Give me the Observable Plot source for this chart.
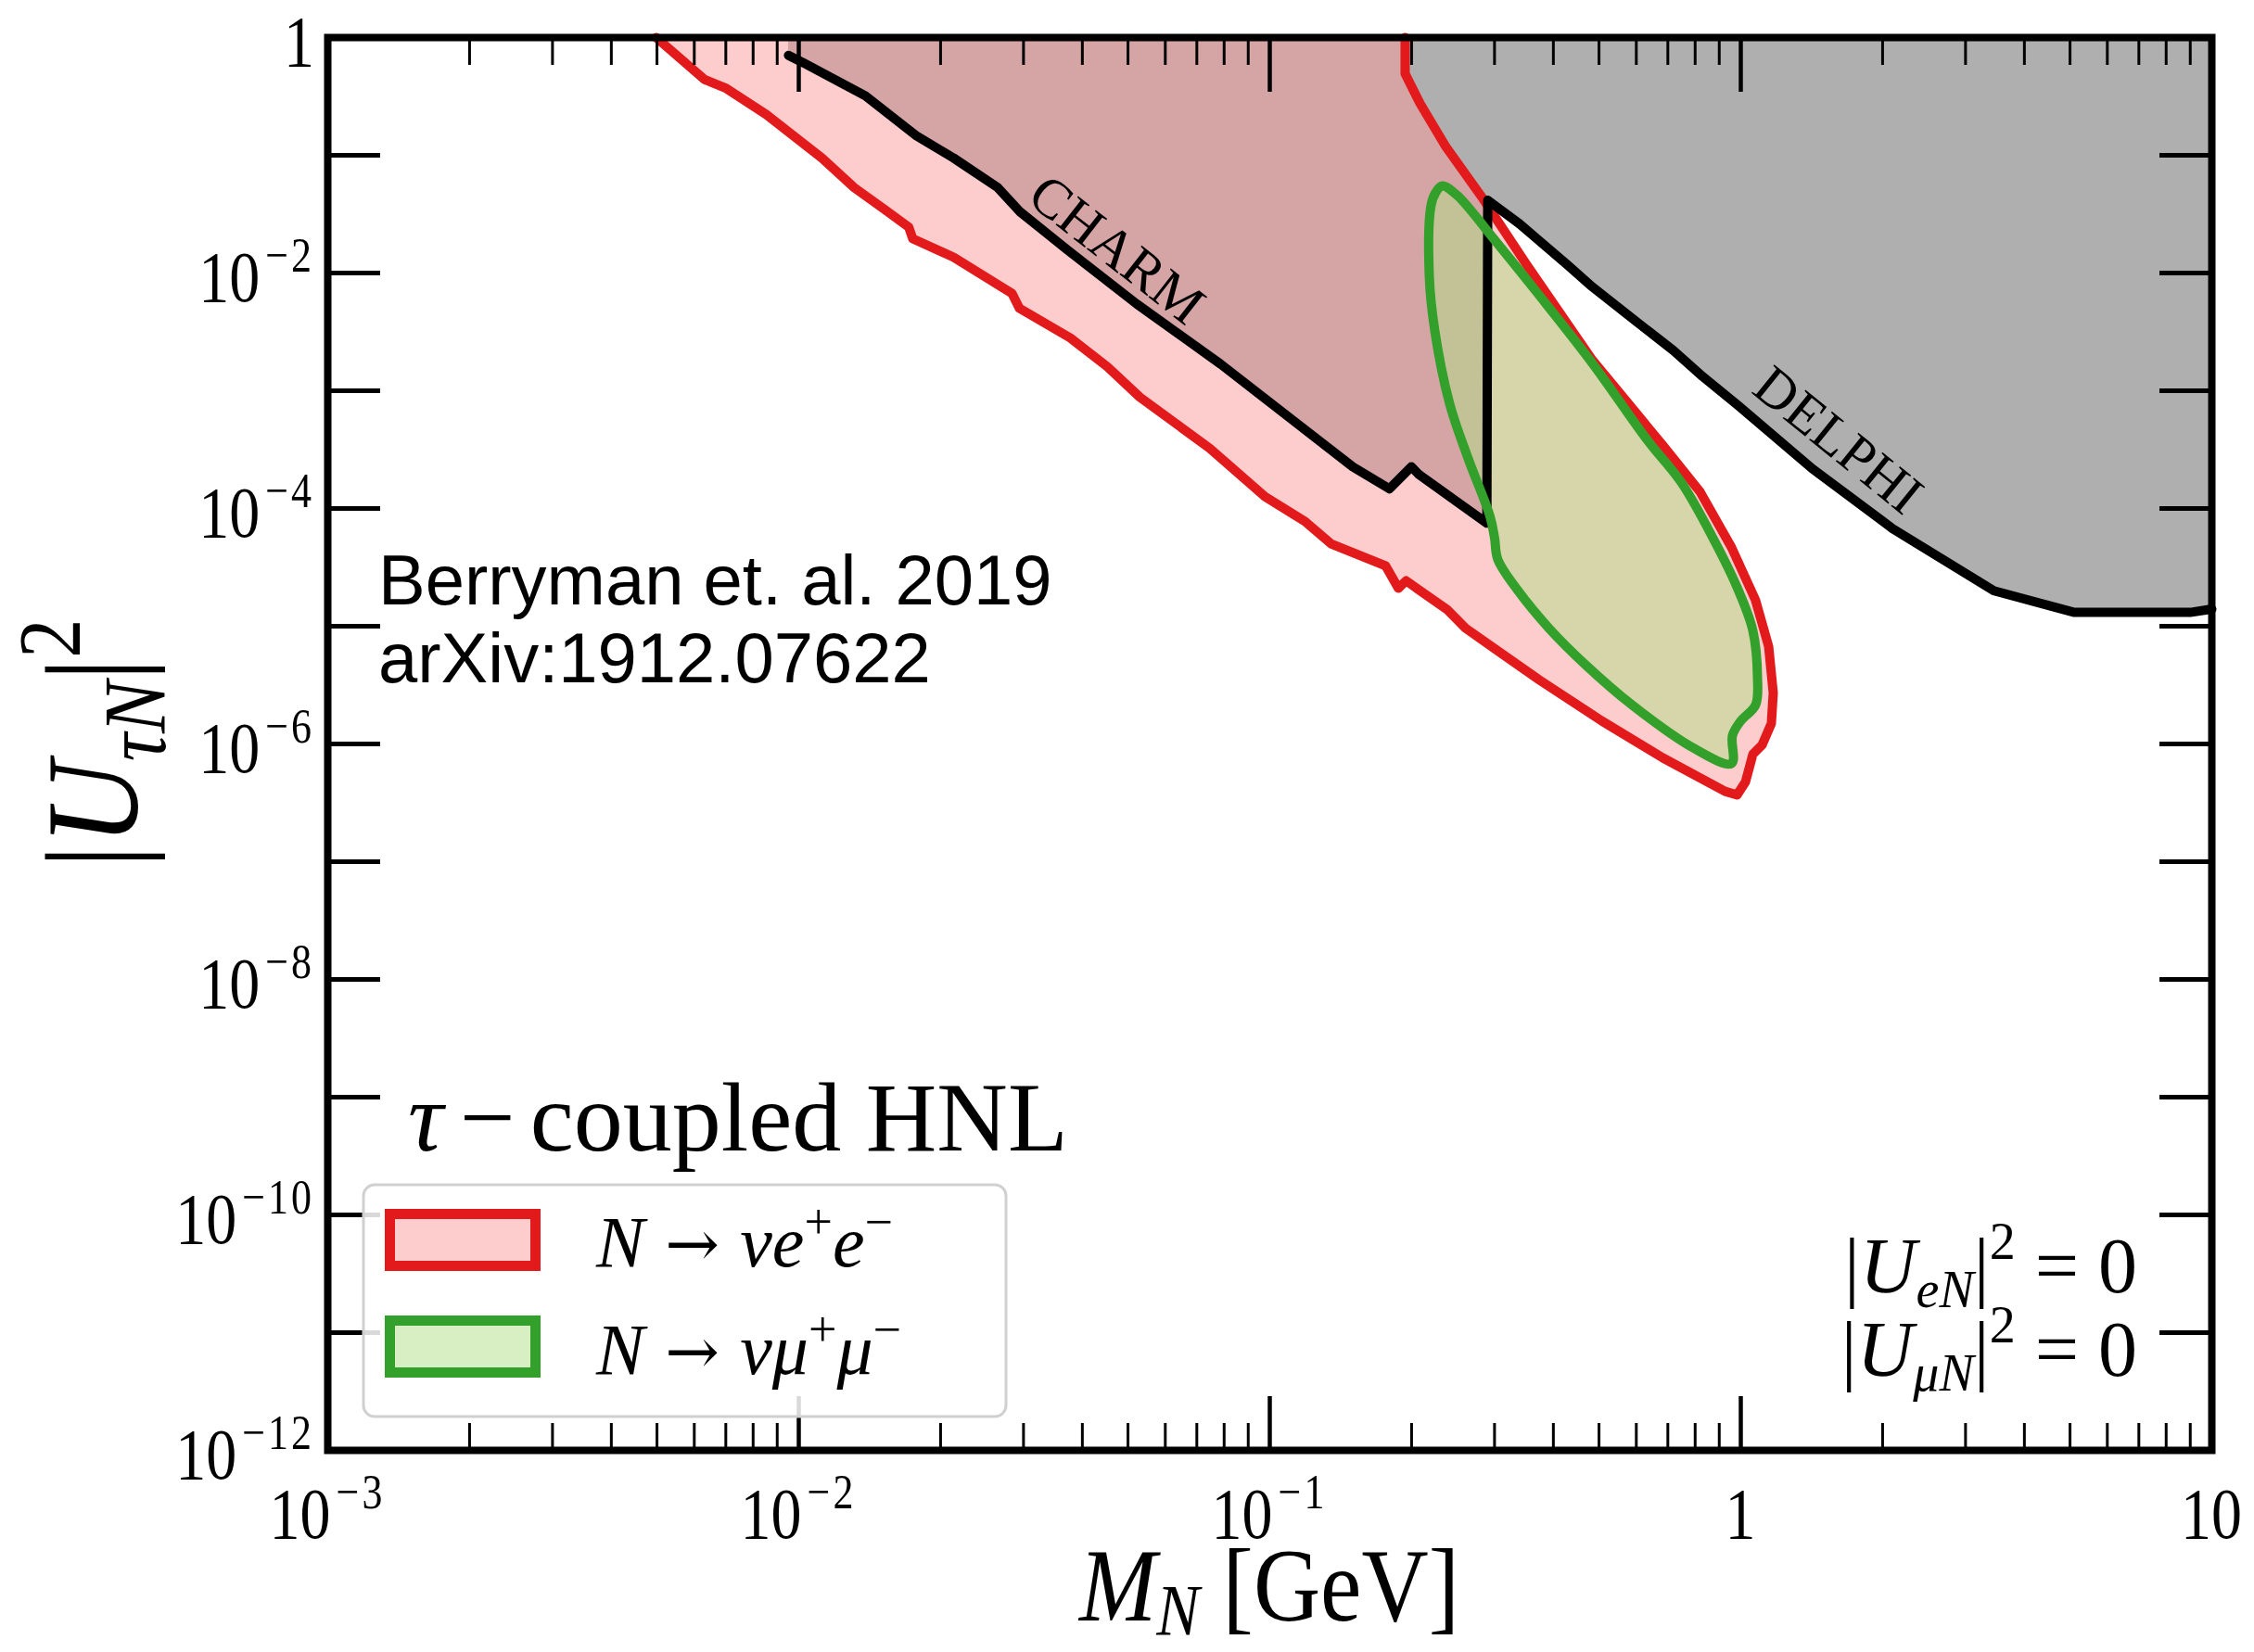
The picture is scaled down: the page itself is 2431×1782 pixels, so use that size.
<!DOCTYPE html>
<html>
<head>
<meta charset="utf-8">
<script src="https://cdn.jsdelivr.net/npm/d3@7"></script>
<script src="https://cdn.jsdelivr.net/npm/@observablehq/plot@0.6"></script>
<style>
html, body { margin: 0; padding: 0; background: #fff; }
svg { display: block; }
</style>
</head>
<body>
<div id="chart"></div>
<script>
// ---------------- data ----------------
// x: heavy neutral lepton mass M_N [GeV]; y: |U_tauN|^2
const massMajorTicks = [1e-3, 1e-2, 1e-1, 1, 10];
const massMinorTicks = [
  2e-3, 3e-3, 4e-3, 5e-3, 6e-3, 7e-3, 8e-3, 9e-3,
  2e-2, 3e-2, 4e-2, 5e-2, 6e-2, 7e-2, 8e-2, 9e-2,
  2e-1, 3e-1, 4e-1, 5e-1, 6e-1, 7e-1, 8e-1, 9e-1,
  2, 3, 4, 5, 6, 7, 8, 9
];
const massTickLabels = [["10", "−3"], ["10", "−2"], ["10", "−1"], ["1", ""], ["10", ""]];
const couplingTicks = [1, 1e-1, 1e-2, 1e-3, 1e-4, 1e-5, 1e-6, 1e-7, 1e-8, 1e-9, 1e-10, 1e-11, 1e-12];
const couplingLabelTicks = [1, 1e-2, 1e-4, 1e-6, 1e-8, 1e-10, 1e-12];
const couplingTickLabels = [["1", ""], ["10", "−2"], ["10", "−4"], ["10", "−6"], ["10", "−8"], ["10", "−10"], ["10", "−12"]];

// N -> nu e+ e-  sensitivity region (closed contour), [mass, |U|^2]
const eeRegion = [
  [0.1938, 1], [0.1938, 0.493], [0.2084, 0.276], [0.2366, 0.1178], [0.2836, 0.0427],
  [0.3510, 0.01177], [0.4842, 1.82e-3], [0.5884, 7.08e-4], [0.6833, 3.43e-4], [0.8192, 1.39e-4],
  [0.9557, 4.67e-5], [1.075, 1.66e-5], [1.146, 6.71e-6], [1.172, 2.71e-6], [1.161, 1.49e-6],
  [1.110, 9.82e-7], [1.061, 8.19e-7], [1.023, 4.75e-7], [0.982, 3.69e-7], [0.926, 3.96e-7],
  [0.683, 7.62e-7], [0.5067, 1.57e-6], [0.3739, 3.49e-6], [0.302, 6.35e-6], [0.2602, 9.64e-6],
  [0.2377, 1.39e-5], [0.1947, 2.43e-5], [0.1875, 2.10e-5], [0.1762, 3.25e-5], [0.1349, 5.02e-5],
  [0.1188, 7.76e-5], [0.0977, 1.26e-4], [0.0745, 3.25e-4], [0.0530, 8.81e-4], [0.0452, 1.60e-3],
  [0.0377, 2.81e-3], [0.0294, 5.02e-3], [0.02836, 6.71e-3], [0.02132, 0.01361], [0.01746, 0.01955],
  [0.01712, 0.0245], [0.01517, 0.0349], [0.01312, 0.0530], [0.01120, 0.0947], [0.00853, 0.222],
  [0.00702, 0.369], [0.00630, 0.442], [0.00498, 1]
];

// N -> nu mu+ mu-  sensitivity region (closed contour)
const mumuRegion = [
  [0.2323, 0.0550], [0.2497, 0.0458], [0.2987, 0.01955], [0.3706, 6.71e-3], [0.4842, 1.71e-3],
  [0.6339, 3.79e-4], [0.748, 1.66e-4], [0.873, 5.60e-5], [0.982, 2.14e-5], [1.061, 9.13e-6],
  [1.085, 3.69e-6], [1.075, 2.14e-6], [1.0, 1.57e-6], [0.960, 1.18e-6], [0.956, 6.84e-7],
  [0.797, 9.14e-7], [0.588, 2.14e-6], [0.469, 4.67e-6], [0.3913, 9.64e-6], [0.3370, 1.99e-5],
  [0.3049, 3.69e-5], [0.3001, 5.60e-5], [0.2937, 8.49e-5], [0.2637, 2.66e-4], [0.2409, 7.76e-4],
  [0.2240, 3.25e-3], [0.2181, 9.46e-3], [0.2200, 0.0376], [0.2251, 0.0484]
];

// existing limits (CHARM + DELPHI): lower edge of the excluded region
const excludedEdge = [
  [0.00951, 0.705], [0.01022, 0.611], [0.01385, 0.320], [0.01781, 0.1455], [0.02132, 0.0947],
  [0.02642, 0.0533], [0.02942, 0.0334], [0.03714, 0.01577], [0.0521, 5.49e-3], [0.0787, 1.68e-3],
  [0.1086, 6.17e-4], [0.150, 2.26e-4], [0.1795, 1.47e-4], [0.1998, 2.26e-4], [0.2071, 1.95e-4],
  [0.2890, 7.5e-5], [0.2902, 0.0415], [0.3388, 0.0262], [0.4277, 0.0118], [0.4845, 7.6e-3],
  [0.601, 3.85e-3], [0.719, 2.20e-3], [0.830, 1.32e-3], [0.991, 7.4e-4], [1.418, 2.18e-4],
  [2.10, 6.75e-5], [3.446, 2.00e-5], [5.108, 1.31e-5], [9.0, 1.31e-5], [10, 1.40e-5]
];

const experimentLabels = [
  {name: "CHARM", m: 0.0473, u: 0.01574, angle: 38},
  {name: "DELPHI", m: 1.61, u: 3.79e-4, angle: 39}
];

const legendItems = [
  {label: "ee", fill: "#fb9a99", stroke: "#e31a1c"},
  {label: "mumu", fill: "#b2df8a", stroke: "#33a02c"}
];

// ---------------- chart ----------------
const pts = a => a.map(([m, u]) => ({m, u}));
const ee = pts(eeRegion), mumu = pts(mumuRegion), excl = pts(excludedEdge);
const SERIF = "'Liberation Serif', 'DejaVu Serif', serif";
const noLabel = () => "";

const chart = Plot.plot({
  width: 2431,
  height: 1782,
  marginLeft: 353, marginRight: 46, marginTop: 40, marginBottom: 218,
  x: {type: "log", domain: [1e-3, 10], label: null},
  y: {type: "log", domain: [1e-12, 1], label: null},
  style: {background: "white"},
  marks: [
    Plot.areaY(excl, {x: "m", y1: "u", y2: 1, fill: "#afafaf"}),
    Plot.line(ee, {x: "m", y: "u", curve: "linear-closed", fill: "#fb9a99", fillOpacity: 0.5, stroke: "none"}),
    Plot.line(mumu, {x: "m", y: "u", curve: "catmull-rom-closed", fill: "#b2df8a", fillOpacity: 0.5, stroke: "none"}),
    Plot.line(ee, {x: "m", y: "u", stroke: "#e31a1c", strokeWidth: 10}),
    Plot.line(excl, {x: "m", y: "u", stroke: "black", strokeWidth: 10}),
    Plot.line(mumu, {x: "m", y: "u", curve: "catmull-rom-closed", stroke: "#33a02c", strokeWidth: 10}),
    Plot.text(experimentLabels, {x: "m", y: "u", text: "name", rotate: "angle", fontSize: 60, fontFamily: SERIF, fill: "black"}),
    Plot.axisX(massMajorTicks, {anchor: "bottom", tickSize: -58, strokeWidth: 4.5, tickFormat: noLabel, label: null}),
    Plot.axisX(massMinorTicks, {anchor: "bottom", tickSize: -29, strokeWidth: 3, tickFormat: noLabel, label: null}),
    Plot.axisX(massMajorTicks, {anchor: "top", tickSize: -58, strokeWidth: 4.5, tickFormat: noLabel, label: null}),
    Plot.axisX(massMinorTicks, {anchor: "top", tickSize: -29, strokeWidth: 3, tickFormat: noLabel, label: null}),
    Plot.axisY(couplingTicks, {anchor: "left", tickSize: -57, strokeWidth: 5, tickFormat: noLabel, label: null}),
    Plot.axisY(couplingTicks, {anchor: "right", tickSize: -57, strokeWidth: 5, tickFormat: noLabel, label: null}),
    Plot.frame({stroke: "black", strokeWidth: 8})
  ]
});

document.getElementById("chart").appendChild(chart);

// ---------------- text via the chart's own scales ----------------
const sx = chart.scale("x"), sy = chart.scale("y");
const svg = d3.select(chart);
const xLeft = Math.min(...sx.range), xRight = Math.max(...sx.range);
const yBottom = Math.max(...sy.range), yTop = Math.min(...sy.range);

function mathText(parent, parts, attrs) {
  const t = parent.append("text").attr("text-anchor", "start");
  for (const [k, v] of Object.entries(attrs)) t.attr(k, v);
  let shift = 0;
  for (const p of parts) {
    const s = p.shift || 0;
    const sp = t.append("tspan").text(p.t);
    if (s !== shift) { sp.attr("dy", s - shift); shift = s; }
    if (p.size) sp.attr("font-size", p.size);
    if (p.it) sp.attr("font-style", "italic");
    if (p.dx) sp.attr("dx", p.dx);
    if (p.ls) sp.attr("letter-spacing", p.ls);
    if (p.font) sp.attr("font-family", p.font);
  }
  return t;
}

const gText = svg.append("g").attr("font-family", SERIF).attr("fill", "black").attr("text-anchor", "start");

// y tick labels
couplingLabelTicks.forEach((v, i) => {
  const [b, e] = couplingTickLabels[i];
  const parts = [{t: b}];
  if (e) parts.push({t: e, size: 44, shift: -27, dx: 6, ls: 3});
  mathText(gText, parts, {
    transform: `translate(${xLeft - 14},${sy.apply(v) + 31}) scale(1,1.2)`,
    "text-anchor": "end", "font-size": 66
  });
});

// x tick labels
massMajorTicks.forEach((v, i) => {
  const [b, e] = massTickLabels[i];
  const parts = [{t: b}];
  if (e) parts.push({t: e, size: 44, shift: -27, dx: 6, ls: 3});
  mathText(gText, parts, {
    transform: `translate(${sx.apply(v)},${yBottom + 95}) scale(1,1.2)`,
    "text-anchor": "middle", "font-size": 66
  });
});

// axis titles
mathText(gText, [{t: "M", it: 1}, {t: "N", it: 1, size: 68, shift: 13}, {t: " [GeV]"}], {
  transform: `translate(${(xLeft + xRight) / 2},${yBottom + 184}) scale(1.02,1.15)`,
  "text-anchor": "middle", "font-size": 98
});
mathText(gText, [{t: "|"}, {t: "U", it: 1}, {t: "τN", it: 1, size: 96, shift: 30}, {t: "|"}, {t: "2", size: 96, shift: -62}], {
  transform: `translate(148,${(yTop + yBottom) / 2}) rotate(-90) scale(0.88,1)`,
  "text-anchor": "middle", "font-size": 142
});

// in-plot annotations
mathText(gText, [{t: "τ", it: 1}, {t: "−", dx: 18}, {t: "coupled HNL", dx: 16}], {
  x: xLeft + 87, y: sy.apply(1e-9) + 58, "font-size": 106
});
mathText(gText, [{t: "|"}, {t: "U", it: 1}, {t: "eN", it: 1, size: 56, shift: 16}, {t: "|"}, {t: "2", size: 56, shift: -36}, {t: " = 0"}], {
  x: xRight - 80, y: yBottom - 170, "text-anchor": "end", "font-size": 84
});
mathText(gText, [{t: "|"}, {t: "U", it: 1}, {t: "μN", it: 1, size: 56, shift: 16}, {t: "|"}, {t: "2", size: 56, shift: -36}, {t: " = 0"}], {
  x: xRight - 80, y: yBottom - 80, "text-anchor": "end", "font-size": 84
});

// reference note (sans-serif)
const gNote = svg.append("g").attr("font-family", "'Liberation Sans', Arial, sans-serif")
  .attr("fill", "black").attr("font-size", 76).attr("text-anchor", "start");
gNote.append("text").attr("x", xLeft + 55).attr("y", 652).text("Berryman et. al. 2019");
gNote.append("text").attr("x", xLeft + 55).attr("y", 736).text("arXiv:1912.07622");

// legend
const gLeg = svg.append("g");
gLeg.append("rect").attr("x", xLeft + 39).attr("y", 1278).attr("width", 693).attr("height", 250)
  .attr("rx", 12).attr("fill", "white").attr("fill-opacity", 0.85).attr("stroke", "#d0d0d0").attr("stroke-width", 3);
legendItems.forEach((d, i) => {
  const y0 = 1309.5 + i * 115;
  gLeg.append("rect").attr("x", xLeft + 67.5).attr("y", y0).attr("width", 157).attr("height", 56)
    .attr("fill", d.fill).attr("fill-opacity", 0.5).attr("stroke", d.stroke).attr("stroke-width", 11);
});
const gLegText = gLeg.append("g").attr("font-family", SERIF).attr("fill", "black").attr("font-size", 78).attr("text-anchor", "start");
const ARROW = "'DejaVu Serif', 'DejaVu Sans', serif";
mathText(gLegText, [{t: "N", it: 1}, {t: " → ", font: ARROW, size: 70}, {t: "νe", it: 1}, {t: "+", size: 54, shift: -30}, {t: "e", it: 1}, {t: "−", size: 54, shift: -30}], {
  x: xLeft + 290, y: 1366
});
mathText(gLegText, [{t: "N", it: 1}, {t: " → ", font: ARROW, size: 70}, {t: "νμ", it: 1}, {t: "+", size: 54, shift: -30}, {t: "μ", it: 1}, {t: "−", size: 54, shift: -30}], {
  x: xLeft + 290, y: 1482
});
</script>
</body>
</html>
